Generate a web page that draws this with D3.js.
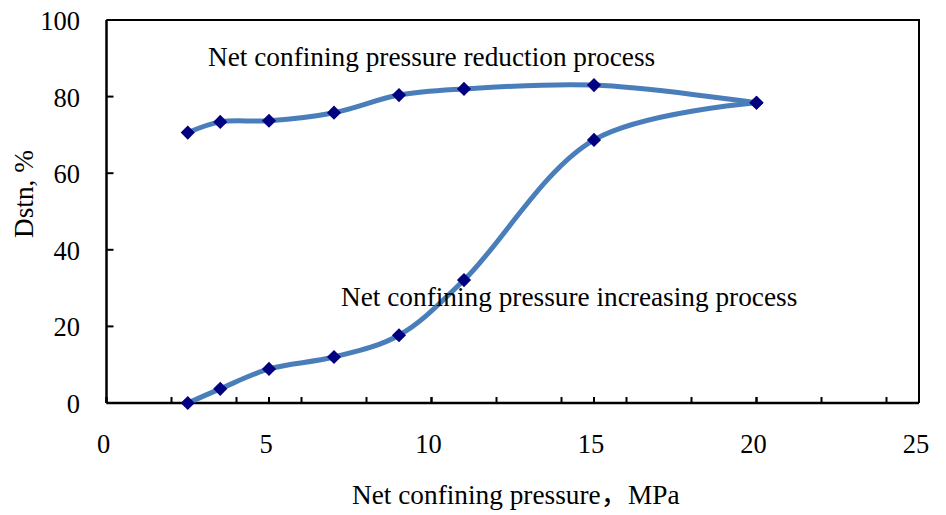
<!DOCTYPE html>
<html>
<head>
<meta charset="utf-8">
<script src="https://cdn.jsdelivr.net/npm/d3@7"></script>
<style>
  body { margin: 0; background: #fff; }
  text { font-family: "Liberation Serif", "Times New Roman", "Noto Sans CJK SC", serif; fill: #000; }
</style>
</head>
<body>
<svg id="chart" width="946" height="515"></svg>
<script>
// pressure (MPa) and Dstn (%)
var reduceX = [2.5, 3.5, 5, 7, 9, 11, 15, 20]
var reduceY = [70.6, 73.4, 73.7, 75.8, 80.4, 82.0, 83.0, 78.4]
var increaseX = [2.5, 3.5, 5, 7, 9, 11, 15, 20]
var increaseY = [0, 3.7, 8.9, 12.0, 17.7, 32.1, 68.7, 78.4]
var xTicks = [0, 5, 10, 15, 20, 25]
var xMinor = [0, 2, 4, 6, 8, 10, 12, 14, 16, 18, 20, 22, 24]
var yTicks = [0, 20, 40, 60, 80, 100]

var svg = d3.select('#chart')
var margin = { left: 106.5, top: 20, right: 27, bottom: 112 }
var width = +svg.attr('width')
var height = +svg.attr('height')
var fs = '26.5px'
var fsNote = '27.3px'

var xscale = d3.scaleLinear().domain([0, 25]).range([margin.left, width - margin.right])
var yscale = d3.scaleLinear().domain([0, 100]).range([height - margin.bottom, margin.top])

var y0 = yscale(0)

// frame (top and right)
svg.append('path')
    .attr('d', 'M' + xscale(0) + ',' + yscale(100) + 'H' + xscale(25) + 'V' + y0)
    .attr('fill', 'none')
    .attr('stroke', '#000')
    .attr('stroke-width', 2)

// x axis
var xg = svg.append('g').attr('transform', 'translate(0,' + y0 + ')')
xg.append('line').attr('x1', xscale(0)).attr('x2', xscale(25)).attr('stroke', '#000').attr('stroke-width', 2.5)
xg.selectAll('.minor').data(xMinor.concat(xTicks)).enter()
    .append('line')
    .attr('x1', d => xscale(d)).attr('x2', d => xscale(d))
    .attr('y1', 0).attr('y2', -6)
    .attr('stroke', '#000').attr('stroke-width', 2)
xg.selectAll('text').data(xTicks).enter()
    .append('text').text(d => d)
    .attr('x', d => xscale(d) - 3)
    .attr('y', 50)
    .attr('text-anchor', 'middle')
    .style('font-size', fs)

// y axis
var yg = svg.append('g').attr('transform', 'translate(' + xscale(0) + ',0)')
yg.append('line').attr('y1', yscale(0)).attr('y2', yscale(100)).attr('stroke', '#000').attr('stroke-width', 2.5)
yg.selectAll('.tick').data(yTicks).enter()
    .append('line')
    .attr('y1', d => yscale(d)).attr('y2', d => yscale(d))
    .attr('x1', 0).attr('x2', 7)
    .attr('stroke', '#000').attr('stroke-width', 2)
yg.selectAll('text').data(yTicks).enter()
    .append('text').text(d => d)
    .attr('x', -26.5)
    .attr('y', d => yscale(d) + 10)
    .attr('text-anchor', 'end')
    .style('font-size', fs)

var line = d3.line()
    .x(d => xscale(d[0]))
    .y(d => yscale(d[1]))
    .curve(d3.curveCatmullRom.alpha(0.5))

var series = [d3.zip(reduceX, reduceY), d3.zip(increaseX, increaseY)]

svg.append('g').selectAll('path').data(series).enter()
    .append('path')
    .attr('d', d => line(d))
    .attr('fill', 'none')
    .attr('stroke', '#4a7ebb')
    .attr('stroke-width', 5)

var diamond = d3.symbol().type(d3.symbolSquare).size(100)
svg.append('g').selectAll('path').data(series[0].concat(series[1])).enter()
    .append('path')
    .attr('d', diamond)
    .attr('transform', d => 'translate(' + xscale(d[0]) + ',' + yscale(d[1]) + ') rotate(45)')
    .attr('fill', '#000080')

svg.append('text').text('Net confining pressure reduction process')
    .attr('x', 208).attr('y', 66).style('font-size', fsNote)
svg.append('text').text('Net confining pressure increasing process')
    .attr('x', 341).attr('y', 306).style('font-size', fsNote)

svg.append('text').text('Net confining pressure，MPa')
    .attr('x', 352).attr('y', 504).style('font-size', fsNote)
svg.append('text').text('Dstn, %')
    .attr('transform', 'translate(33,238) rotate(-90)')
    .style('font-size', fsNote)
</script>
</body>
</html>
